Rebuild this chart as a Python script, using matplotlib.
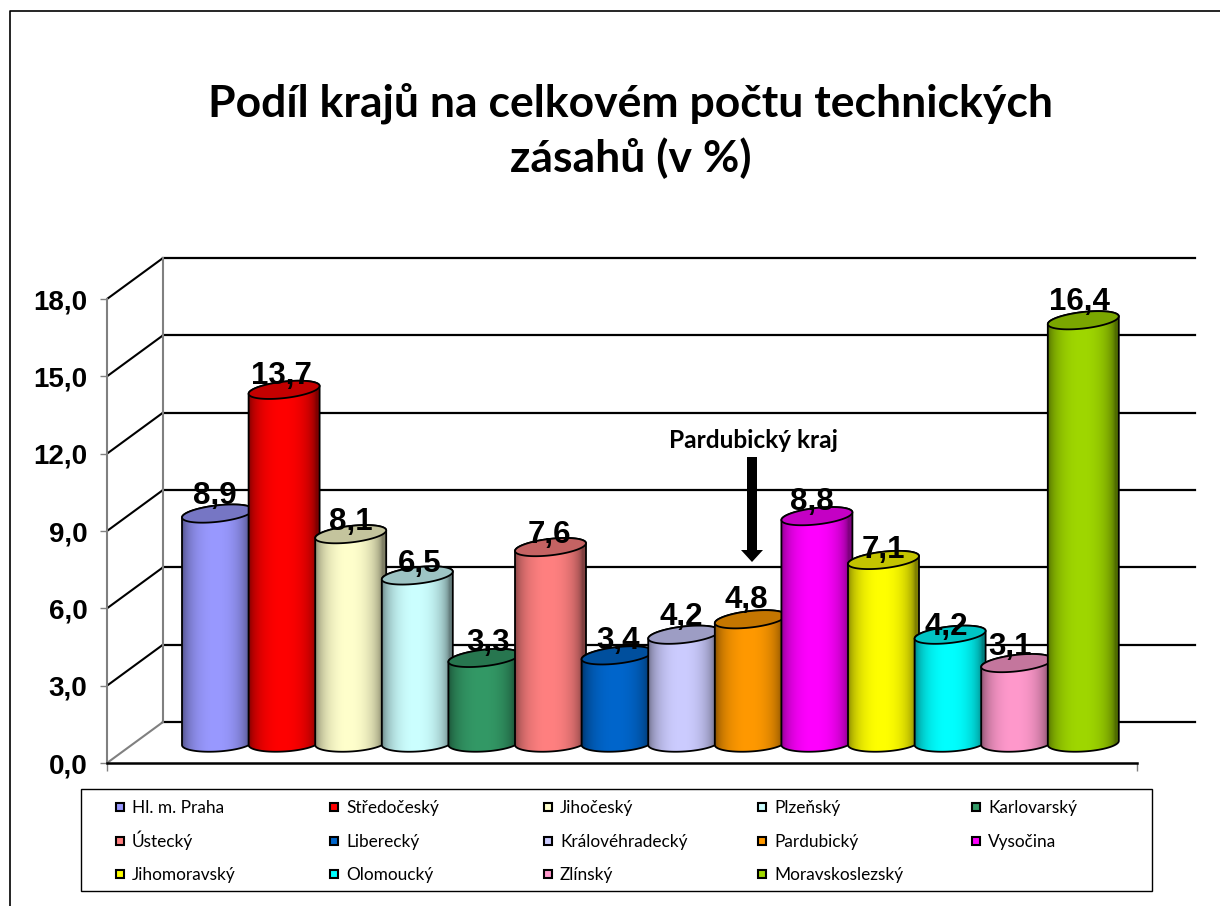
import numpy as np
import matplotlib
matplotlib.use("Agg")
import matplotlib.pyplot as plt
from matplotlib.patches import PathPatch, Rectangle, FancyArrow
from matplotlib.path import Path
from matplotlib.colors import to_rgb

W, H = 1220, 906

regions = ["Hl. m. Praha", "Středočeský", "Jihočeský", "Plzeňský", "Karlovarský",
           "Ústecký", "Liberecký", "Královéhradecký", "Pardubický", "Vysočina",
           "Jihomoravský", "Olomoucký", "Zlínský", "Moravskoslezský"]
shares = [8.9, 13.7, 8.1, 6.5, 3.3, 7.6, 3.4, 4.2, 4.8, 8.8, 7.1, 4.2, 3.1, 16.4]
colors = ["#9999FF", "#FF0000", "#FFFFCC", "#CCFFFF", "#339966", "#FF8080", "#0066CC",
          "#CCCCFF", "#FF9900", "#FF00FF", "#FFFF00", "#00FFFF", "#FF99CC", "#9FD700"]
y_ticks = [0, 3, 6, 9, 12, 15, 18]

# hand nudges of the value labels, in pixels
label_dx = [-2.5, -3, 0, 2, 4, -1.5, 1, -2, -4, -5, 0, -4, -7, -4]
label_lift = [10, 6, 4, 3, 7, 4, 6, 10, 11, 6, 2, 0, 8, 10]

title = "Podíl krajů na celkovém počtu technických\nzásahů (v %)"
note = "Pardubický kraj"


def add_axes_px(fig, left, right, top, bottom, **kw):
    # axes placed by pixel box of the reference
    return fig.add_axes([left / W, 1 - bottom / H, (right - left) / W, (bottom - top) / H], **kw)


def ellipse_xy(cx, cy, a, b, shear, t):
    return cx + a * np.cos(t), cy + b * np.sin(t) + shear * np.cos(t)


def draw_cylinder(ax, i, value, color, half=0.533):
    z = 3 + i * 0.1
    rgb = np.array(to_rgb(color))
    t_low = np.linspace(np.pi, 2 * np.pi, 40)
    t_up = np.linspace(0, np.pi, 40)
    bx, by = ellipse_xy(i, 0, half, 0.33, 0.08, t_low)
    tx, ty = ellipse_xy(i, value, half, 0.32, 0.15, t_up)
    verts = np.column_stack([np.r_[bx, tx], np.r_[by, ty]])
    verts = np.vstack([verts, verts[0]])
    codes = [Path.MOVETO] + [Path.LINETO] * (len(verts) - 2) + [Path.CLOSEPOLY]
    body = PathPatch(Path(verts, codes), fc="none", ec="black", lw=1.3, zorder=z + 0.02, clip_on=False)
    ax.add_patch(body)

    # horizontal shading of the side
    u = np.linspace(-1, 1, 72)
    shade = 0.5 + 0.5 * np.clip(1 - (np.abs(u + 0.05) / 0.95) ** 2.2, 0, 1) ** 0.6
    img = (rgb[None, None, :] * shade[None, :, None]).clip(0, 1)
    im = ax.imshow(img, extent=[i - half, i + half, -0.5, value + 0.5], aspect="auto",
                   zorder=z, interpolation="bilinear")
    im.set_clip_box(ax.figure.bbox)
    im.set_clip_path(PathPatch(Path(verts, codes), transform=ax.transData))

    # darker lid
    t = np.linspace(0, 2 * np.pi, 80)
    lx, ly = ellipse_xy(i, value, half, 0.32, 0.15, t)
    lid = plt.Polygon(np.column_stack([lx, ly]), closed=True, fc=rgb * 0.77, ec="black", lw=1.3,
                      zorder=z + 0.04, clip_on=False)
    ax.add_patch(lid)


plt.rcParams["font.family"] = ["Liberation Sans", "DejaVu Sans"]
fig = plt.figure(figsize=(W / 100, H / 100), dpi=100, facecolor="white")

# pixel layer for frame, side wall, legend
frame = fig.add_axes([0, 0, 1, 1], zorder=1)
frame.set_xlim(0, W)
frame.set_ylim(H, 0)
frame.axis("off")
frame.plot([10, 10, W], [H, 11, 11], color="black", lw=1.2)

# back wall
back = add_axes_px(fig, 163, 1195, 258, 722, zorder=2)
back.patch.set_alpha(0)
back.set_ylim(0, 18)
back.set_xticks([])
back.set_yticks(y_ticks)
back.tick_params(left=False, labelleft=False)
back.grid(axis="y", color="black", lw=1.6, clip_on=False)
back.set_axisbelow(True)
for name in ["top", "right", "bottom"]:
    back.spines[name].set_visible(False)
back.spines["left"].set_color("#808080")
back.spines["left"].set_linewidth(1.5)

# front axis with the labels
front = add_axes_px(fig, 107, 1137, 299, 763, zorder=2)
front.patch.set_alpha(0)
front.set_ylim(0, 18)
front.set_xlim(0, 1)
front.set_xticks([0, 1])
front.set_xticklabels(["", ""])
front.set_yticks(y_ticks)
front.set_yticklabels([f"{v:.1f}".replace(".", ",") for v in y_ticks],
                      fontsize=20, fontweight="bold")
front.tick_params(axis="y", length=5, width=1, color="#808080", pad=9)
front.tick_params(axis="x", length=6, width=1, color="#808080")
for name in ["top", "right"]:
    front.spines[name].set_visible(False)
front.spines["left"].set_color("#808080")
front.spines["left"].set_linewidth(1.5)
front.spines["bottom"].set_color("black")
front.spines["bottom"].set_linewidth(1.8)

# side wall diagonals, floor one is grey
px_per_unit = 464 / 18
for v in y_ticks:
    frame.plot([107, 163], [763 - v * px_per_unit, 722 - v * px_per_unit],
               color="#808080" if v == 0 else "black", lw=1.5, solid_capstyle="butt")

# cylinders
ax = add_axes_px(fig, 184.2, 1116.6, 279, 743, zorder=3)
ax.patch.set_alpha(0)
ax.axis("off")
ax.set_xlim(-0.5, 13.5)
ax.set_ylim(0, 18)
for i, (value, color) in enumerate(zip(shares, colors)):
    draw_cylinder(ax, i, value, color)
    ax.annotate(f"{value:.1f}".replace(".", ","), (i, value),
                xytext=(label_dx[i] * 0.72, label_lift[i] * 0.72), textcoords="offset points",
                ha="center", va="baseline", fontsize=22.5, fontweight="bold",
                zorder=10, annotation_clip=False)
ax.set_xlim(-0.5, 13.5)
ax.set_ylim(0, 18)

# overlay for title, note and legend
top = fig.add_axes([0, 0, 1, 1], zorder=4)
top.set_xlim(0, W)
top.set_ylim(H, 0)
top.axis("off")
top.patch.set_alpha(0)

top.text(631, 131, title, ha="center", va="center", fontsize=32, fontweight="bold",
         family=["Lato", "DejaVu Sans"], linespacing=1.4)
top.text(753, 441, note, ha="center", va="center", fontsize=17.6, fontweight="bold",
         family=["Lato", "DejaVu Sans"])
top.add_patch(FancyArrow(752, 457, 0, 105, width=10, head_width=22, head_length=12,
                         length_includes_head=True, fc="black", ec="none"))

# legend
top.add_patch(Rectangle((81, 789), 1071, 102, fc="white", ec="black", lw=1))
for i, name in enumerate(regions):
    row, col = divmod(i, 5)
    x = 116 + col * 214
    y = 807 + row * 33.5
    top.add_patch(Rectangle((x, y - 4), 8, 8, fc=colors[i], ec="black", lw=1.5))
    top.text(x + 16, y + 6, name, va="baseline", ha="left", fontsize=12.4,
             family=["Lato", "DejaVu Sans"])

fig.savefig("out.png", dpi=100)
